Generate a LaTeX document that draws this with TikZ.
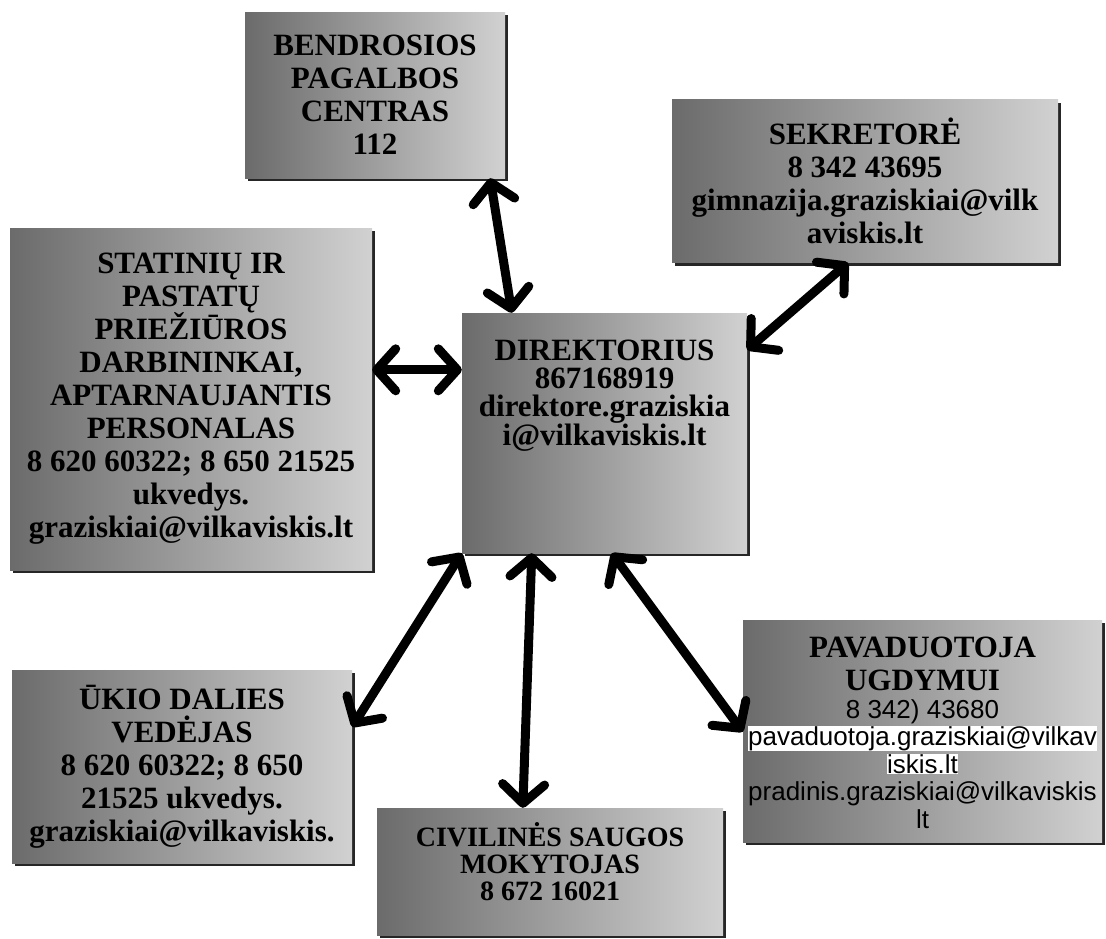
\documentclass[tikz,border=0pt]{standalone}
\usepackage{fontspec}
\setmainfont{Liberation Serif}
\newfontfamily\arialfont{Liberation Sans}
\usetikzlibrary{arrows.meta,shadows}
\lineskiplimit=-30pt

\begin{document}
\begin{tikzpicture}[x=1pt,y=-1pt]
    \tikzstyle{unit}=[inner sep=0pt, align=center, left color=black!58, right color=black!18,
        drop shadow={shadow xshift=3pt, shadow yshift=-3pt, fill=black, opacity=0.85},
        font=\bfseries\fontsize{31}{33}\selectfont]
    \tikzstyle{link}=[line width=9pt, {Straight Barb[length=19pt,width=42pt,round]}-{Straight Barb[length=19pt,width=42pt,round]}]

    \useasboundingbox (0,0) rectangle (1106,938);

    \node[unit, minimum width=260pt, minimum height=166pt] at (375,95) (bendr)
        {\fontsize{31}{35}\selectfont BENDROSIOS\\PAGALBOS\\CENTRAS\\112};
    \node[unit, minimum width=386pt, minimum height=163pt] at (865,181) (sekr)
        {\fontsize{31}{31}\selectfont SEKRETORĖ\\8 342 43695\\gimnazija.graziskiai@vilk\\aviskis.lt};
    \node[unit, minimum width=362pt, minimum height=342pt] at (191,399) (stat)
        {STATINIŲ IR\\PASTATŲ\\PRIEŽIŪROS\\DARBININKAI,\\APTARNAUJANTIS\\PERSONALAS\\8 620 60322; 8 650 21525\\ukvedys.\\graziskiai@vilkaviskis.lt};
    \node[unit] at (604.5,433) (dir)
        {\parbox[c][240pt][t]{285pt}{\centering\fontsize{31}{28}\selectfont\vspace*{27pt}%
        DIREKTORIUS\\867168919\\direktore.graziskia\\i@vilkaviskis.lt}};
    \node[unit, minimum width=340pt, minimum height=193pt] at (182,766.5) (ukio)
        {\fontsize{31}{31}\selectfont ŪKIO DALIES\\VEDĖJAS\\8 620 60322; 8 650\\21525 ukvedys.\\graziskiai@vilkaviskis.};
    \node[unit] at (550,871.5) (civ)
        {\parbox[c][127pt][t]{346pt}{\centering\fontsize{28}{27}\selectfont\vspace*{14pt}%
        CIVILINĖS SAUGOS\\MOKYTOJAS\\8 672 16021}};
    \node[unit] at (922.5,731) (pav)
        {\parbox[c][222pt][t]{359pt}{\centering\fontsize{31}{33}\selectfont\vspace*{17pt}%
        PAVADUOTOJA\\UGDYMUI\par
        {\arialfont\mdseries\fontsize{26}{27.5}\selectfont\setlength{\fboxsep}{0.5pt}%
        8 342) 43680\\\colorbox{white}{pavaduotoja.graziskiai@vilkav}\\\colorbox{white}{iskis.lt}\\pradinis.graziskiai@vilkaviskis\\lt\par}}};

    \draw ([xshift=-15pt]bendr.south east) edge [link] ([xshift=50pt]dir.north west);
    \draw ([xshift=-17pt]sekr.south) edge [link] ([yshift=-37pt]dir.north east);
    \draw ([yshift=-142pt]stat.north east) edge [link] ([yshift=-57pt]dir.north west);
    \draw (dir.south west) edge [link] ([yshift=-57pt]ukio.north east);
    \draw ([xshift=70pt]dir.south west) edge [link] ([xshift=146pt]civ.north west);
    \draw ([xshift=150pt]dir.south west) edge [link] ([yshift=-112pt]pav.north west);
\end{tikzpicture}
\end{document}
